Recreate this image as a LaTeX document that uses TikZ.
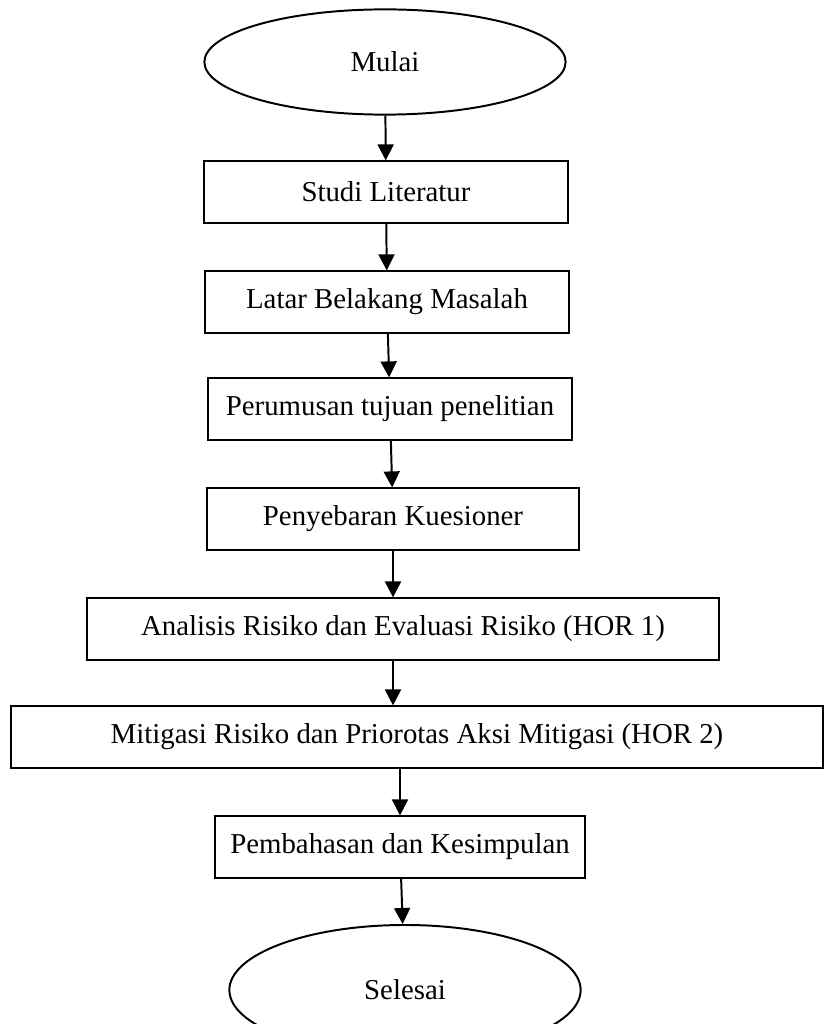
\documentclass[tikz,border=0pt]{standalone}
\usepackage{fontspec}
\setmainfont{Liberation Serif}
\usetikzlibrary{shapes.geometric}
\usetikzlibrary{arrows.meta}

\begin{document}
\begin{tikzpicture}[x=0.025cm,y=-0.025cm,
  every node/.style={font=\fontsize{20.5}{24}\selectfont},
  proses/.style={draw,line width=1.4pt,minimum height=1.53cm,inner sep=0pt},
  terminal/.style={draw,ellipse,line width=1.4pt,inner sep=0pt},
  alur/.style={-{Triangle[width=0.4cm,length=0.4cm]},line width=1.4pt}]
  \useasboundingbox (0,0) rectangle (825,1024);
  \node[terminal,minimum width=9.03cm,minimum height=2.63cm] (mulai) at (385,62) {Mulai};
  \node[proses,minimum width=9.1cm] (studi) at (386,192) {Studi Literatur};
  \node[proses,minimum width=9.1cm] (latar) at (387,302) {Latar Belakang Masalah};
  \node[proses,minimum width=9.1cm] (rumusan) at (390,409) {Perumusan tujuan penelitian};
  \node[proses,minimum width=9.3cm] (kuesioner) at (393,519) {Penyebaran Kuesioner};
  \node[proses,minimum width=15.78cm] (hor1) at (403,629) {Analisis Risiko dan Evaluasi Risiko (HOR 1)};
  \node[proses,minimum width=20.28cm] (hor2) at (417,737) {Mitigasi Risiko dan Priorotas Aksi Mitigasi (HOR 2)};
  \node[proses,minimum width=9.25cm] (bahas) at (400,847) {Pembahasan dan Kesimpulan};
  \node[terminal,minimum width=8.78cm,minimum height=3.25cm] (selesai) at (405,990) {Selesai};
  \draw[alur] (mulai) -- (studi);
  \draw[alur] (studi) -- (latar);
  \draw[alur] (latar) -- (rumusan);
  \draw[alur] (rumusan) -- (kuesioner);
  \draw[alur] (kuesioner.south) -- (kuesioner.south |- hor1.north);
  \draw[alur] (hor1.south -| kuesioner) -- (hor2.north -| kuesioner);
  \draw[alur] (hor2.south -| bahas) -- (bahas);
  \draw[alur] (bahas) -- (selesai);
\end{tikzpicture}
\end{document}
